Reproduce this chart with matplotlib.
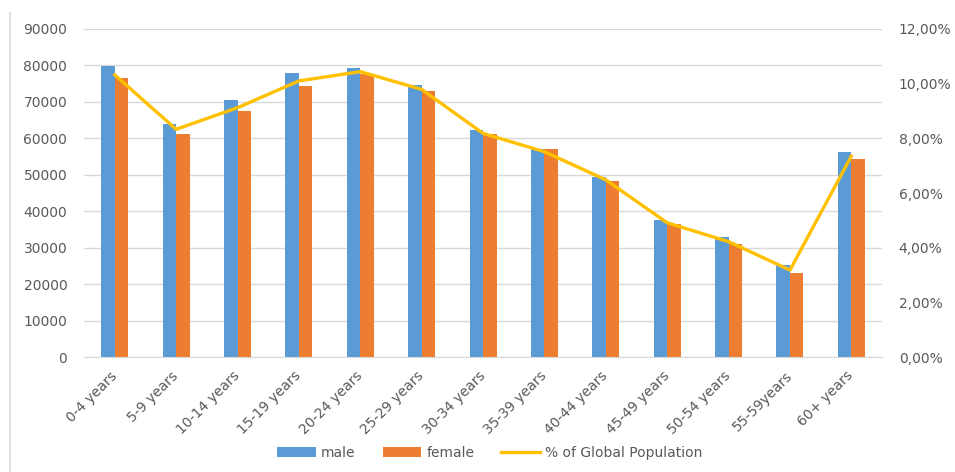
import matplotlib
matplotlib.use("Agg")
import matplotlib.pyplot as plt
import numpy as np
from matplotlib.patches import Patch
from matplotlib.lines import Line2D
from matplotlib.ticker import FuncFormatter, MultipleLocator

# Age groups and population figures
age_groups = ["0-4 years", "5-9 years", "10-14 years", "15-19 years", "20-24 years",
              "25-29 years", "30-34 years", "35-39 years", "40-44 years", "45-49 years",
              "50-54 years", "55-59years", "60+ years"]
male = [79900, 63900, 70500, 77900, 79200, 74500, 62300, 57100, 49400, 37600, 32900, 25200, 56300]
female = [76500, 61300, 67400, 74400, 77700, 73100, 61200, 57200, 48400, 36600, 31100, 23000, 54400]
global_share = [10.32, 8.33, 9.12, 10.10, 10.44, 9.79, 8.18, 7.51, 6.48, 4.91, 4.22, 3.18, 7.35]

BLUE = "#5B9BD5"
ORANGE = "#ED7D31"
GOLD = "#FFC000"
TEXT = "#595959"
GRID = "#D9D9D9"

plt.rcParams["font.family"] = ["DejaVu Sans"]

fig = plt.figure(figsize=(9.55, 4.72), dpi=100)
ax = fig.add_axes([0.088, 0.2436, 0.8356, 0.695])

x = np.arange(len(age_groups))
w = 0.22
ax.bar(x - w / 2, male, width=w, color=BLUE, zorder=2)
ax.bar(x + w / 2, female, width=w, color=ORANGE, zorder=2)

ax.set_xlim(-0.5, len(age_groups) - 0.5)
ax.set_ylim(0, 90000)
ax.yaxis.set_major_locator(MultipleLocator(10000))
ax.grid(axis="y", color=GRID, linewidth=1.0, zorder=0)
ax.set_axisbelow(True)
for s in ["top", "right", "left"]:
    ax.spines[s].set_visible(False)
ax.spines["bottom"].set_color(GRID)
ax.tick_params(axis="both", length=0, colors=TEXT, labelsize=10)
ax.tick_params(axis="y", pad=12)
ax.set_xticks(x)
ax.set_xticklabels(age_groups, rotation=45, ha="right", va="center",
                   rotation_mode="anchor", color=TEXT, fontsize=10)
ax.tick_params(axis="x", pad=12)

ax2 = ax.twinx()
ax2.plot(x, [v / 100 for v in global_share], color=GOLD, linewidth=2.4,
         solid_joinstyle="round", zorder=3)
ax2.set_ylim(0, 0.12)
ax2.yaxis.set_major_locator(MultipleLocator(0.02))
ax2.yaxis.set_major_formatter(FuncFormatter(lambda v, p: f"{v * 100:.2f}%".replace(".", ",")))
for s in ax2.spines.values():
    s.set_visible(False)
ax2.tick_params(axis="y", length=0, colors=TEXT, labelsize=10, pad=12)

handles = [
    Patch(facecolor=BLUE, edgecolor="none", label="male"),
    Patch(facecolor=ORANGE, edgecolor="none", label="female"),
    Line2D([], [], color=GOLD, linewidth=2.4, label="% of Global Population"),
]
leg = fig.legend(handles=handles, loc="center", bbox_to_anchor=(0.513, 0.04),
                 ncol=3, frameon=False, fontsize=10, handlelength=2.8,
                 handletextpad=0.35, columnspacing=1.95)
for t in leg.get_texts():
    t.set_color(TEXT)

# thin chart border on the left edge
fig.add_artist(Line2D([0.0105, 0.0105], [0.0, 0.972], transform=fig.transFigure,
                      color=GRID, linewidth=1.2))

fig.savefig("out.png", dpi=100)
